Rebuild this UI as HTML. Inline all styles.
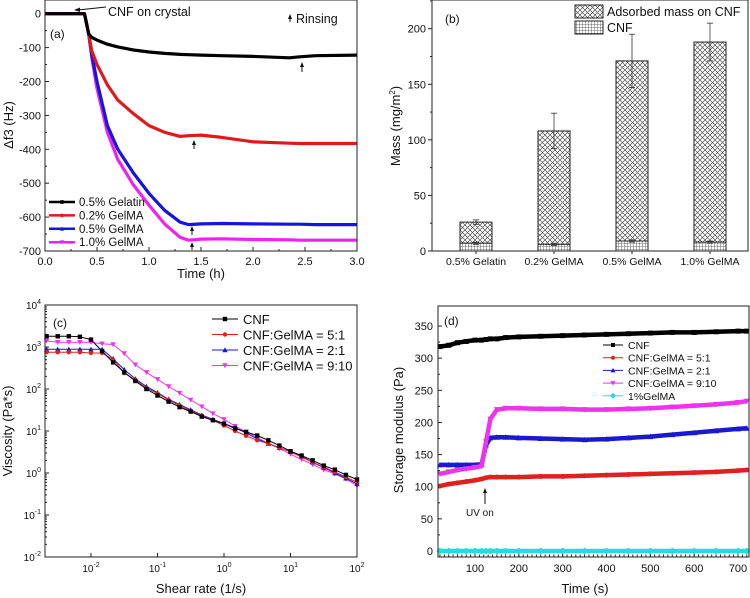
<!DOCTYPE html>
<html><head><meta charset="utf-8"><style>
html,body{margin:0;padding:0;background:#fff}
svg{display:block;font-family:"Liberation Sans",Arial,sans-serif}
</style></head><body>
<svg id="fig" width="750" height="598" viewBox="0 0 750 598">
<defs>
<pattern id="xhatch" width="5" height="5" patternUnits="userSpaceOnUse"><rect width="5" height="5" fill="#fff"/><path d="M0,0L5,5M5,0L0,5" stroke="#555" stroke-width="0.7"/></pattern>
<pattern id="grid" width="3" height="3" patternUnits="userSpaceOnUse"><rect width="3" height="3" fill="#fff"/><path d="M0,0H3M0,0V3" stroke="#444" stroke-width="0.8"/></pattern>
</defs>
</svg>
<script>
// ---------- Panel (a) data ----------
const aTimes=[0,0.33,0.38,0.42,0.45,0.5,0.6,0.7,0.85,1.0,1.15,1.3,1.38,1.5,1.7,2.0,2.35,2.45,2.6,3.0];
const aGelatin=[0,0,0,-60,-70,-78,-90,-98,-107,-113,-117,-120,-121,-122,-124,-126,-130,-127,-124,-122];
const aGel02=[0,0,0,-60,-110,-150,-210,-255,-295,-330,-350,-362,-360,-358,-365,-378,-382,-383,-383,-383];
const aGel05=[0,0,0,-60,-120,-200,-330,-400,-470,-530,-580,-615,-622,-620,-619,-620,-621,-621,-622,-622];
const aGel10=[0,0,0,-60,-130,-220,-350,-430,-505,-565,-620,-660,-668,-665,-664,-666,-667,-668,-668,-668];
const aXTicks=[0,0.5,1,1.5,2,2.5,3];
const aYTicks=[0,-100,-200,-300,-400,-500,-600,-700];
// ---------- Panel (b) data ----------
const bCats=["0.5% Gelatin","0.2% GelMA","0.5% GelMA","1.0% GelMA"];
const bTotal=[26,108,171,188];
const bCNF=[7,6,9,8];
const bErr=[2,16,24,17];
const bCNFErr=[1,1,1,1];
const bYTicks=[0,50,100,150,200];
// ---------- Panel (c) data ----------
const cShear=[0.00215,0.00316,0.00464,0.00681,0.01,0.0147,0.0215,0.0316,0.0464,0.0681,0.1,0.147,0.215,0.316,0.464,0.681,1,1.47,2.15,3.16,4.64,6.81,10,14.7,21.5,31.6,46.4,68.1,100];
const cCNF=[1800,1800,1800,1750,1500,800,430,250,155,100,70,50,37,29,22,18,15,11.5,9.5,7.8,6,4.5,3.3,2.6,2.0,1.5,1.2,0.9,0.7];
const c51=[750,750,750,750,720,720,500,240,165,105,78,55,40,30,23,18,13.5,10,7.7,6,5,4,3.2,2.4,1.8,1.4,1.05,0.8,0.6];
const c21=[880,880,880,880,880,880,530,290,175,115,82,57,43,32,24,19,15,12,9,6.5,5,4,3.2,2.5,1.8,1.35,1,0.75,0.55];
const c910=[1400,1300,1300,1300,1300,1200,1150,700,380,250,170,115,80,55,38,26,19,13,9.5,7,5,3.8,2.8,2.1,1.6,1.2,0.95,0.72,0.5];
const cYExp=[-2,-1,0,1,2,3,4];
const cXExp=[-2,-1,0,1,2];
// ---------- Panel (d) data ----------
const dTimes=[20,40,60,80,100,115,125,135,150,170,200,250,300,350,400,450,500,550,600,650,700,720];
const dCNF=[318,320,324,326,328,328,329,330,330,332,333,334,335,336,337,338,339,340,340,341,342,342];
const d51=[101,104,106,108,110,112,114,115,115,115,115,116,116,117,118,119,120,121,122,123,125,126];
const d21=[134,134,134,134,134,135,165,176,177,177,176,175,174,173,174,176,178,181,184,187,190,191];
const d910=[120,123,126,128,130,132,170,205,220,222,222,221,221,220,220,221,222,224,226,228,231,233];
const dGel=[0,0,0,0,0,0,0,0,0,0,0,0,0,0,0,0,0,0,0,0,0,0];
const dXTicks=[100,200,300,400,500,600,700];
const dYTicks=[0,50,100,150,200,250,300,350];

const svg=document.getElementById('fig');
const NS='http://www.w3.org/2000/svg';
function mk(tag,attrs,parent,text){const e=document.createElementNS(NS,tag);for(const k in attrs)e.setAttribute(k,attrs[k]);if(text!==undefined)e.textContent=text;(parent||svg).appendChild(e);return e;}
function grp(name){const g=mk('g',{});return g;}
function txt(g,x,y,s,opts){const t=mk('text',Object.assign({x:x,y:y,'font-size':11,fill:'#111'},opts||{}),g,s);return t;}
function frame(g,l,t,r,b){mk('rect',{x:l,y:t,width:r-l,height:b-t,fill:'none',stroke:'#222','stroke-width':1},g);}
function poly(g,xs,ys,fx,fy,color,w){const pts=xs.map((v,i)=>fx(v).toFixed(1)+','+fy(ys[i]).toFixed(1)).join(' ');return mk('polyline',{points:pts,fill:'none',stroke:color,'stroke-width':w,'stroke-linejoin':'round'},g);}
function marker(g,type,x,y,color,s){s=s||2.5;
 if(type==='sq')return mk('rect',{x:x-s,y:y-s,width:2*s,height:2*s,fill:color},g);
 if(type==='ci')return mk('circle',{cx:x,cy:y,r:s,fill:color},g);
 if(type==='up')return mk('polygon',{points:`${x},${y-s-0.5} ${x-s-0.5},${y+s} ${x+s+0.5},${y+s}`,fill:color},g);
 if(type==='dn')return mk('polygon',{points:`${x},${y+s+0.5} ${x-s-0.5},${y-s} ${x+s+0.5},${y-s}`,fill:color},g);
 if(type==='di')return mk('polygon',{points:`${x},${y-s-1} ${x+s+1},${y} ${x},${y+s+1} ${x-s-1},${y}`,fill:color},g);}
function arrowUp(g,x,y1,y2){mk('line',{x1:x,y1:y1,x2:x,y2:y2+3,stroke:'#111','stroke-width':1},g);mk('polygon',{points:`${x},${y2} ${x-2},${y2+5} ${x+2},${y2+5}`,fill:'#111'},g);}

// ================= Panel A =================
(function(){
 const g=grp('panel-a-frequency-chart');
 const L=45,R=357,T=0,B=251;
 const fx=v=>L+v/3*(R-L);
 const fy=v=>13.7-v*(251-13.7)/700;
 aXTicks.forEach(v=>{const x=fx(v);mk('line',{x1:x,y1:B,x2:x,y2:B-4,stroke:'#222'},g);txt(g,x,B+14,v.toFixed(1),{'text-anchor':'middle'});});
 for(let v=0.25;v<3;v+=0.5){mk('line',{x1:fx(v),y1:B,x2:fx(v),y2:B-2,stroke:'#222'},g);}
 aYTicks.forEach(v=>{const y=fy(v);mk('line',{x1:L,y1:y,x2:L+4,y2:y,stroke:'#222'},g);txt(g,L-4,y+4,String(v),{'text-anchor':'end'});});
 for(let v=-50;v>-700;v-=100){mk('line',{x1:L,y1:fy(v),x2:L+2,y2:fy(v),stroke:'#222'},g);}
 const series=[[aGel10,'#ee22ee'],[aGel05,'#1515dd'],[aGel02,'#e01a1a'],[aGelatin,'#000']];
 series.forEach(s=>{const p=poly(g,aTimes,s[0],fx,fy,s[1],3.2);});
 frame(g,L,T,R,B);
 txt(g,50,38,'(a)',{'font-size':12});
 const yt=txt(g,0,0,'Δf3 (Hz)',{'font-size':13,'text-anchor':'middle',transform:'translate(13,125) rotate(-90)'});
 
 const xt=txt(g,201,278,'Time (h)',{'font-size':13,'text-anchor':'middle'});
 
 txt(g,108,16,'CNF on crystal',{'font-size':12.5});
 mk('line',{x1:106,y1:7,x2:78,y2:10,stroke:'#111'},g);mk('polygon',{points:'74,10 80,7.5 80,12',fill:'#111'},g);
 arrowUp(g,290,22,14);txt(g,296,23,'Rinsing',{'font-size':12.5});
 arrowUp(g,302,72,62);arrowUp(g,194,149,140);arrowUp(g,192,235,226);arrowUp(g,192,250,242);
 const leg=[['0.5% Gelatin','#000','sq'],['0.2% GelMA','#e01a1a','ci'],['0.5% GelMA','#1515dd','up'],['1.0% GelMA','#ee22ee','dn']];
 leg.forEach((e,i)=>{const y=202+i*13.4;const lg=mk('g',{},g);
  mk('line',{x1:49,y1:y,x2:75,y2:y,stroke:e[1],'stroke-width':2.5},lg);marker(lg,e[2],62,y,e[1],1.8);txt(lg,79,y+4,e[0],{'font-size':11.5});});
})();

// ================= Panel B =================
(function(){
 const g=grp('panel-b-mass-bar-chart');
 const L=432,R=748,T=0,B=251;
 const fy=v=>B-v*(251-28.7)/200;
 const centers=bCats.map((c,i)=>L+44+i*78);
 bYTicks.forEach(v=>{const y=fy(v);mk('line',{x1:L,y1:y,x2:L-4,y2:y,stroke:'#222'},g);txt(g,L-6,y+4,String(v),{'text-anchor':'end'});});
 for(let v=25;v<226;v+=50)mk('line',{x1:L,y1:fy(v),x2:L-2,y2:fy(v),stroke:'#222'},g);
 bCats.forEach((c,i)=>{const cx=centers[i],w=32;
  const b1=mk('rect',{x:cx-w/2,y:fy(bTotal[i]),width:w,height:fy(bCNF[i])-fy(bTotal[i]),fill:'url(#xhatch)',stroke:'#222','stroke-width':1},g);
  
  const b2=mk('rect',{x:cx-w/2,y:fy(bCNF[i]),width:w,height:fy(0)-fy(bCNF[i]),fill:'url(#grid)',stroke:'#222','stroke-width':1},g);
  
  [[bTotal[i],bErr[i]],[bCNF[i],bCNFErr[i]]].forEach(e=>{const y1=fy(e[0]+e[1]),y2=fy(e[0]-e[1]);
   mk('line',{x1:cx,y1:y1,x2:cx,y2:y2,stroke:'#333','stroke-width':0.8},g);mk('line',{x1:cx-3,y1:y1,x2:cx+3,y2:y1,stroke:'#333','stroke-width':0.8},g);mk('line',{x1:cx-3,y1:y2,x2:cx+3,y2:y2,stroke:'#333','stroke-width':0.8},g);});
  mk('line',{x1:cx,y1:B,x2:cx,y2:B+3,stroke:'#222'},g);
  txt(g,cx,B+14,c,{'text-anchor':'middle','font-size':10.5});});
 frame(g,L,T,R,B);
 txt(g,445,23,'(b)',{'font-size':12});
 const yt=txt(g,0,0,'Mass (mg/m',{'font-size':13,'text-anchor':'middle',transform:'translate(400,126) rotate(-90)'});
 mk('tspan',{'font-size':8,dy:-5},yt,'2');mk('tspan',{dy:5},yt,')');
 
 const l1=mk('g',{},g);
 mk('rect',{x:575,y:5,width:28,height:13,fill:'url(#xhatch)',stroke:'#222'},l1);txt(l1,607,16,'Adsorbed mass on CNF',{'font-size':12.5});
 const l2=mk('g',{},g);
 mk('rect',{x:575,y:21,width:28,height:13,fill:'url(#grid)',stroke:'#222'},l2);txt(l2,607,32,'CNF',{'font-size':12.5});
})();

// ================= Panel C =================
(function(){
 const g=grp('panel-c-viscosity-chart');
 const L=45,R=357,T=305,B=557;
 const fx=v=>91+(Math.log10(v)+2)*66.5;
 const fy=v=>B-(Math.log10(v)+2)*(B-T)/6;
 cYExp.forEach(e=>{const y=fy(Math.pow(10,e));mk('line',{x1:L,y1:y,x2:L+4,y2:y,stroke:'#222'},g);
  const t=txt(g,L-4,y+4,'10',{'text-anchor':'end','font-size':10});mk('tspan',{'font-size':7,dy:-5},t,String(e));
  if(e<4)for(let m=2;m<10;m++){const yy=fy(m*Math.pow(10,e));mk('line',{x1:L,y1:yy,x2:L+2,y2:yy,stroke:'#222'},g);}});
 cXExp.forEach(e=>{const x=fx(Math.pow(10,e));mk('line',{x1:x,y1:B,x2:x,y2:B-4,stroke:'#222'},g);
  const t=txt(g,x,B+15,'10',{'text-anchor':'middle','font-size':10});mk('tspan',{'font-size':7,dy:-5},t,String(e));});
 const series=[[c910,'#ee33ee','dn'],[c21,'#1a1acc','up'],[c51,'#e02020','ci'],[cCNF,'#000','sq']];
 series.forEach(s=>{const sg=mk('g',{},g);
  poly(sg,cShear,s[0],fx,fy,s[1],1);cShear.forEach((v,i)=>marker(sg,s[2],fx(v),fy(s[0][i]),s[1],2.2));});
 frame(g,L,T,R,B);
 txt(g,53,327,'(c)',{'font-size':12});
 const yt=txt(g,0,0,'Viscosity (Pa*s)',{'font-size':13,'text-anchor':'middle',transform:'translate(12,431) rotate(-90)'});
 
 const xt=txt(g,201,593,'Shear rate (1/s)',{'font-size':13,'text-anchor':'middle'});
 
 const leg=[['CNF','#000','sq'],['CNF:GelMA = 5:1','#e02020','ci'],['CNF:GelMA = 2:1','#1a1acc','up'],['CNF:GelMA = 9:10','#ee33ee','dn']];
 leg.forEach((e,i)=>{const y=319+i*15.5;const lg=mk('g',{},g);
  mk('line',{x1:212,y1:y,x2:238,y2:y,stroke:e[1],'stroke-width':1},lg);marker(lg,e[2],225,y,e[1],2.2);txt(lg,243,y+5,e[0],{'font-size':13});});
})();

// ================= Panel D =================
(function(){
 const g=grp('panel-d-storage-modulus-chart');
 const L=438,R=749,T=306,B=557;
 const fx=v=>475+(v-100)*263/600;
 const fy=v=>551-v*225/350;
 dXTicks.forEach(v=>{const x=fx(v);mk('line',{x1:x,y1:B,x2:x,y2:B-5,stroke:'#222'},g);txt(g,x,B+15,String(v),{'text-anchor':'middle'});});
 for(let v=20;v<725;v+=10)mk('line',{x1:fx(v),y1:B,x2:fx(v),y2:B-2.5,stroke:'#222'},g);
 dYTicks.forEach(v=>{const y=fy(v);mk('line',{x1:L,y1:y,x2:L+4,y2:y,stroke:'#222'},g);txt(g,L-5,y+4,String(v),{'text-anchor':'end'});});
 for(let v=25;v<375;v+=50)mk('line',{x1:L,y1:fy(v),x2:L+2,y2:fy(v),stroke:'#222'},g);
 const series=[[dGel,'#22dddd','di'],[d51,'#e02020','ci'],[d21,'#1a1acc','up'],[d910,'#ee33ee','dn'],[dCNF,'#000','sq']];
 series.forEach(s=>{const sg=mk('g',{},g);
  poly(sg,dTimes,s[0],fx,fy,s[1],4.5);dTimes.forEach((v,i)=>marker(sg,s[2],fx(v),fy(s[0][i]),s[1],2.5));});
 frame(g,L,T,R,B);
 txt(g,444,325,'(d)',{'font-size':12});
 txt(g,466,516,'UV on',{'font-size':10});arrowUp(g,485,504,488);
 const yt=txt(g,0,0,'Storage modulus (Pa)',{'font-size':13,'text-anchor':'middle',transform:'translate(403,430) rotate(-90)'});
 
 const xt=txt(g,585,593,'Time (s)',{'font-size':13,'text-anchor':'middle'});
 
 const leg=[['CNF','#000','sq'],['CNF:GelMA = 5:1','#e02020','ci'],['CNF:GelMA = 2:1','#1a1acc','up'],['CNF:GelMA = 9:10','#ee33ee','dn'],['1%GelMA','#22dddd','di']];
 leg.forEach((e,i)=>{const y=345+i*12.7;const lg=mk('g',{},g);
  mk('line',{x1:603,y1:y,x2:623,y2:y,stroke:e[1],'stroke-width':1},lg);marker(lg,e[2],613,y,e[1],2);txt(lg,628,y+4,e[0],{'font-size':10.5});});
})();
</script>
</body></html>
